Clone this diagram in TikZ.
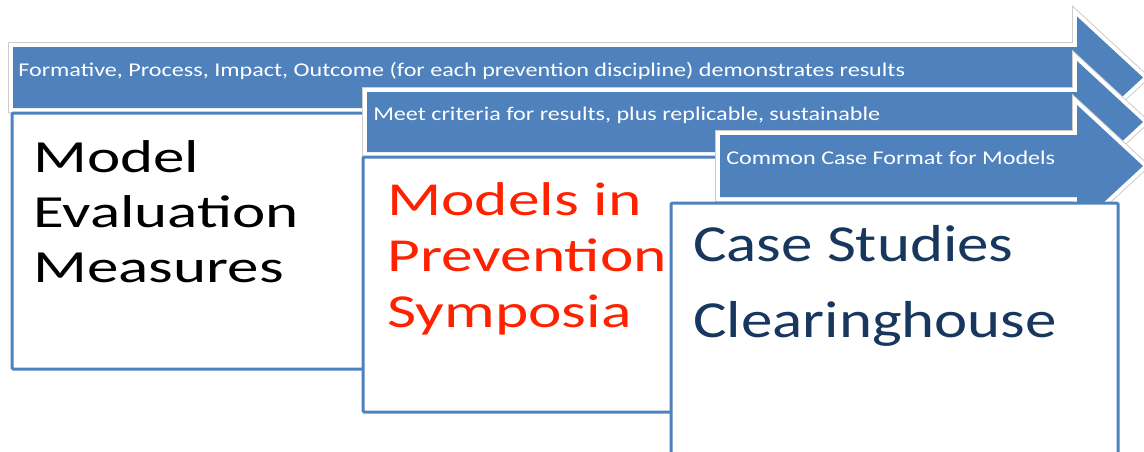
\documentclass[tikz,border=0pt]{standalone}
\usepackage{fontspec}
\setmainfont{Carlito}
\newfontfamily\bandfont[FakeStretch=1.24]{Carlito}
\newfontfamily\evalfont[FakeStretch=1.37]{Carlito}
\newfontfamily\sympfont[FakeStretch=1.34]{Carlito}
\newfontfamily\clearfont[FakeStretch=1.21]{Carlito}
\usepackage{tikz}

\begin{document}
\begin{tikzpicture}[x=0.75pt,y=0.75pt,yscale=-1,xscale=1,
  band/.style={fill={rgb, 255:red, 79; green, 129; blue, 189 },draw=none,line join=miter,
    preaction={draw={rgb, 255:red, 205; green, 205; blue, 205 },line width=7.5pt},
    preaction={draw=white,line width=6pt}},
  stagebox/.style={draw={rgb, 255:red, 79; green, 129; blue, 189 },line width=2.25pt,fill=white,rounded corners=1pt},
  bandtext/.style={anchor=base west,inner sep=0pt,text=white,font=\bandfont\fontsize{14.6}{17}\selectfont},
  bigtext/.style={anchor=base west,inner sep=0pt}]
\useasboundingbox (0,0) rectangle (1144,451);
\clip (0,0) rectangle (1144,451);

%Shape: Right Arrow [top band]
\draw [band] (13,47) -- (1077,47) -- (1077,16.5) -- (1143,77.5) -- (1077,138.5) -- (1077,108) -- (13,108) -- cycle ;
%Shape: Rectangle [first stage]
\draw [stagebox] (12,113) rectangle (420,369) ;
%Shape: Right Arrow [middle band]
\draw [band] (367,92) -- (1077,92) -- (1077,61) -- (1143,122) -- (1077,183) -- (1077,152) -- (367,152) -- cycle ;
%Shape: Rectangle [second stage]
\draw [stagebox] (363,157) rectangle (720,412) ;
%Shape: Right Arrow [bottom band]
\draw [band] (720,135) -- (1077,135) -- (1077,105) -- (1143,166) -- (1077,227) -- (1077,197) -- (720,197) -- cycle ;
%Shape: Rectangle [third stage]
\draw [stagebox] (671,203) rectangle (1118,470) ;

% Text Node
\draw (18,76) node [bandtext] (formtxt) {Formative, Process, Impact, Outcome (for each prevention discipline) demonstrates results};
% Text Node
\draw (373,120) node [bandtext] (meettxt) {Meet criteria for results, plus replicable, sustainable};
% Text Node
\draw (726,164) node [bandtext] (casefmt) {Common Case Format for Models};
% Text Node
\draw (33,172) node [bigtext,font=\evalfont\fontsize{34.5}{40}\selectfont] (evalA) {Model};
% Text Node
\draw (33,227) node [bigtext,font=\evalfont\fontsize{34.5}{40}\selectfont] (evalB) {Evaluation};
% Text Node
\draw (33,282) node [bigtext,font=\evalfont\fontsize{34.5}{40}\selectfont] (evalC) {Measures};
% Text Node
\draw (387,215) node [bigtext,font=\sympfont\fontsize{35.5}{40}\selectfont,text={rgb, 255:red, 255; green, 34; blue, 0 }] (sympA) {Models in};
% Text Node
\draw (387,271) node [bigtext,font=\sympfont\fontsize{35.5}{40}\selectfont,text={rgb, 255:red, 255; green, 34; blue, 0 }] (sympB) {Prevention};
% Text Node
\draw (387,327) node [bigtext,font=\sympfont\fontsize{35.5}{40}\selectfont,text={rgb, 255:red, 255; green, 34; blue, 0 }] (sympC) {Symposia};
% Text Node
\draw (693,261) node [bigtext,font=\clearfont\fontsize{39}{44}\selectfont,text={rgb, 255:red, 23; green, 55; blue, 94 }] (clearA) {Case Studies};
% Text Node
\draw (693,337) node [bigtext,font=\clearfont\fontsize{39}{44}\selectfont,text={rgb, 255:red, 23; green, 55; blue, 94 }] (clearB) {Clearinghouse};

\end{tikzpicture}
\end{document}
